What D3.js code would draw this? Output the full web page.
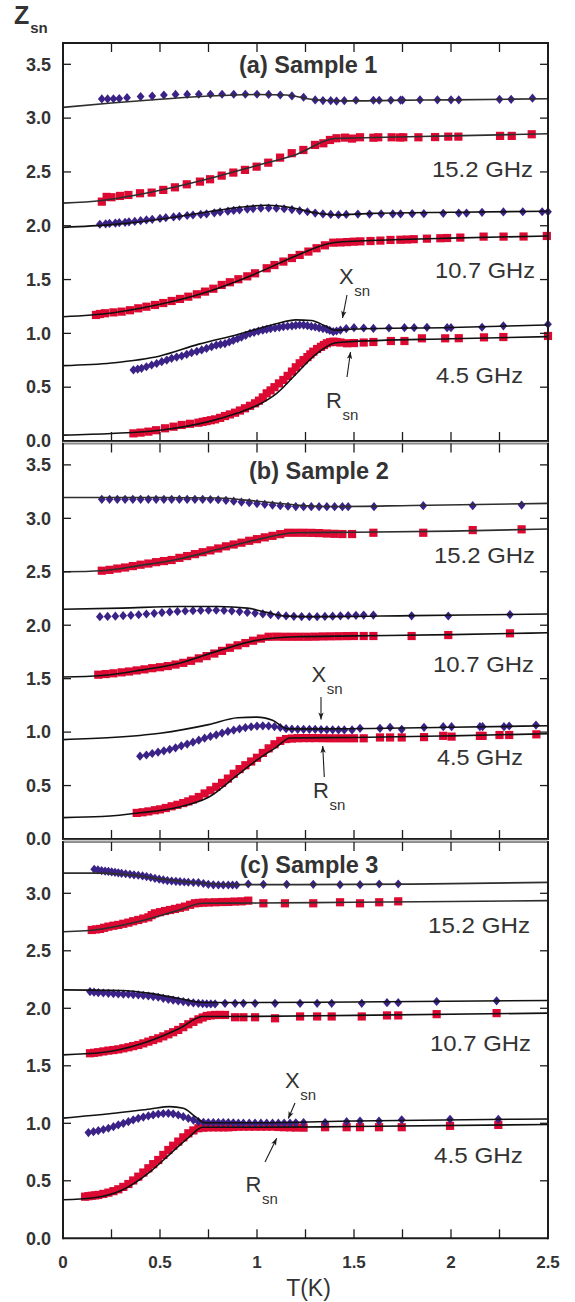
<!DOCTYPE html>
<html><head><meta charset="utf-8">
<script src="https://cdn.jsdelivr.net/npm/d3@7"></script>
<style>
html,body{margin:0;padding:0;background:#fff;}
svg{display:block;font-family:"Liberation Sans",Arial,Helvetica,sans-serif;}
</style></head><body>
<svg id="chart" width="575" height="1302"></svg>
<script>
// ---- axis ticks ----
const tempTicks = [0.25, 0.5, 0.75, 1, 1.25, 1.5, 1.75, 2, 2.25];
const tempLabelValues = [0, 0.5, 1, 1.5, 2, 2.5];
const tempLabels = ["0", "0.5", "1", "1.5", "2", "2.5"];
const zTicksAB = [0, 0.5, 1, 1.5, 2, 2.5, 3, 3.5];
const zTicksC = [0, 0.5, 1, 1.5, 2, 2.5, 3];
const freqLabels = ["15.2 GHz", "10.7 GHz", "4.5 GHz"];
const panelTitles = ["(a) Sample 1", "(b) Sample 2", "(c) Sample 3"];

// ---- Sample 1: measured X_sn (diamonds) and R_sn (squares), [T, Z] ----
const s1_x152 = [[0.20,3.178],[0.23,3.178],[0.26,3.18],[0.29,3.182],[0.33,3.19],[0.40,3.20],[0.46,3.205],[0.52,3.215],[0.58,3.22],[0.64,3.22],[0.70,3.222],[0.76,3.222],[0.82,3.222],[0.88,3.222],[0.94,3.222],[1.00,3.222],[1.06,3.22],[1.12,3.215],[1.18,3.206],[1.24,3.194],[1.30,3.169],[1.34,3.163],[1.38,3.162],[1.41,3.158],[1.45,3.162],[1.51,3.166],[1.60,3.166],[1.63,3.166],[1.69,3.166],[1.74,3.168],[1.75,3.168],[1.84,3.17],[1.93,3.17],[2.00,3.17],[2.04,3.17],[2.25,3.175],[2.31,3.175],[2.42,3.185]];
const s1_r152 = [[0.20,2.224],[0.225,2.268],[0.25,2.265],[0.294,2.277],[0.337,2.286],[0.397,2.302],[0.457,2.308],[0.517,2.333],[0.577,2.357],[0.638,2.385],[0.706,2.41],[0.758,2.432],[0.818,2.466],[0.878,2.494],[0.938,2.519],[0.998,2.549],[1.058,2.586],[1.119,2.633],[1.179,2.674],[1.239,2.704],[1.299,2.751],[1.342,2.766],[1.376,2.797],[1.41,2.813],[1.454,2.819],[1.49,2.81],[1.531,2.822],[1.6,2.818],[1.625,2.822],[1.694,2.822],[1.737,2.82],[1.754,2.822],[1.832,2.822],[1.918,2.824],[1.986,2.828],[2.038,2.828],[2.253,2.835],[2.313,2.835],[2.416,2.85]];
const s1_x107 = [[0.19,2.014],[0.22,2.018],[0.24,2.022],[0.27,2.025],[0.29,2.029],[0.32,2.032],[0.34,2.036],[0.37,2.04],[0.40,2.047],[0.43,2.054],[0.46,2.06],[0.50,2.068],[0.53,2.075],[0.57,2.082],[0.60,2.088],[0.64,2.095],[0.67,2.10],[0.71,2.105],[0.74,2.11],[0.78,2.12],[0.81,2.128],[0.85,2.135],[0.88,2.142],[0.91,2.148],[0.95,2.155],[0.98,2.16],[1.02,2.163],[1.06,2.165],[1.10,2.163],[1.14,2.158],[1.18,2.15],[1.22,2.14],[1.26,2.13],[1.30,2.118],[1.34,2.11],[1.38,2.105],[1.42,2.102],[1.46,2.105],[1.52,2.108],[1.58,2.108],[1.64,2.11],[1.70,2.11],[1.74,2.11],[1.80,2.112],[1.86,2.112],[1.96,2.115],[2.04,2.118],[2.08,2.118],[2.16,2.125],[2.27,2.128],[2.37,2.13],[2.47,2.13],[2.5,2.13]];
const s1_r107 = [[0.17,1.171],[0.19,1.18],[0.216,1.187],[0.26,1.195],[0.302,1.202],[0.345,1.215],[0.388,1.233],[0.43,1.248],[0.474,1.264],[0.517,1.282],[0.56,1.301],[0.603,1.32],[0.646,1.341],[0.69,1.363],[0.732,1.388],[0.775,1.415],[0.818,1.45],[0.86,1.475],[0.904,1.503],[0.95,1.53],[0.99,1.558],[1.05,1.605],[1.09,1.635],[1.136,1.667],[1.18,1.70],[1.22,1.729],[1.265,1.76],[1.307,1.791],[1.35,1.818],[1.393,1.843],[1.43,1.845],[1.464,1.848],[1.498,1.852],[1.533,1.855],[1.585,1.858],[1.636,1.862],[1.688,1.868],[1.739,1.87],[1.773,1.872],[1.808,1.875],[1.876,1.88],[1.945,1.884],[1.98,1.886],[2.048,1.89],[2.168,1.899],[2.271,1.899],[2.374,1.90],[2.494,1.905]];
const s1_x45 = [[0.363,0.66],[0.385,0.668],[0.405,0.675],[0.43,0.69],[0.457,0.706],[0.483,0.72],[0.509,0.737],[0.535,0.752],[0.56,0.768],[0.586,0.78],[0.612,0.79],[0.638,0.805],[0.663,0.821],[0.69,0.833],[0.715,0.846],[0.74,0.86],[0.766,0.876],[0.79,0.89],[0.812,0.898],[0.835,0.905],[0.857,0.92],[0.878,0.935],[0.9,0.95],[0.92,0.965],[0.942,0.982],[0.964,1.0],[0.985,1.01],[1.007,1.02],[1.03,1.03],[1.05,1.038],[1.07,1.045],[1.093,1.05],[1.115,1.056],[1.136,1.062],[1.158,1.066],[1.18,1.07],[1.2,1.075],[1.22,1.078],[1.24,1.077],[1.26,1.072],[1.28,1.065],[1.3,1.06],[1.32,1.052],[1.34,1.045],[1.36,1.038],[1.375,1.028],[1.393,1.016],[1.41,1.022],[1.43,1.031],[1.46,1.045],[1.5,1.053],[1.55,1.05],[1.6,1.046],[1.68,1.05],[1.76,1.053],[1.81,1.053],[1.876,1.056],[1.98,1.053],[2.0,1.053],[2.16,1.057],[2.27,1.07],[2.5,1.085]];
const s1_r45 = [[0.363,0.071],[0.40,0.078],[0.44,0.087],[0.48,0.10],[0.526,0.118],[0.57,0.133],[0.612,0.149],[0.655,0.16],[0.698,0.17],[0.72,0.178],[0.74,0.185],[0.762,0.193],[0.784,0.201],[0.81,0.215],[0.835,0.232],[0.86,0.247],[0.887,0.263],[0.912,0.283],[0.938,0.304],[0.964,0.327],[0.99,0.35],[1.01,0.375],[1.03,0.405],[1.05,0.443],[1.07,0.47],[1.09,0.50],[1.113,0.535],[1.136,0.567],[1.158,0.605],[1.18,0.645],[1.2,0.685],[1.22,0.722],[1.24,0.752],[1.26,0.78],[1.275,0.805],[1.29,0.83],[1.31,0.855],[1.33,0.875],[1.345,0.892],[1.36,0.908],[1.377,0.918],[1.393,0.923],[1.41,0.92],[1.43,0.915],[1.464,0.908],[1.5,0.91],[1.55,0.915],[1.6,0.92],[1.69,0.929],[1.76,0.929],[1.85,0.954],[1.97,0.954],[2.04,0.955],[2.17,0.963],[2.27,0.966],[2.5,0.976]];

// ---- Sample 2 ----
const s2_x152 = [[0.20,3.178],[0.24,3.178],[0.28,3.178],[0.32,3.178],[0.36,3.178],[0.40,3.178],[0.44,3.178],[0.48,3.178],[0.52,3.178],[0.56,3.178],[0.60,3.178],[0.64,3.178],[0.68,3.178],[0.72,3.178],[0.76,3.176],[0.80,3.174],[0.84,3.168],[0.88,3.16],[0.92,3.152],[0.96,3.146],[1.00,3.138],[1.04,3.131],[1.08,3.124],[1.12,3.118],[1.16,3.113],[1.20,3.11],[1.24,3.109],[1.28,3.109],[1.32,3.109],[1.36,3.109],[1.40,3.109],[1.44,3.109],[1.47,3.109],[1.603,3.109],[1.857,3.118],[2.112,3.118],[2.364,3.124]];
const s2_r152 = [[0.20,2.51],[0.24,2.518],[0.28,2.53],[0.32,2.54],[0.36,2.553],[0.40,2.566],[0.44,2.577],[0.48,2.59],[0.52,2.6],[0.56,2.61],[0.60,2.63],[0.64,2.647],[0.68,2.665],[0.72,2.683],[0.76,2.7],[0.80,2.718],[0.84,2.738],[0.88,2.755],[0.92,2.772],[0.96,2.79],[1.00,2.805],[1.04,2.822],[1.08,2.836],[1.12,2.852],[1.16,2.865],[1.20,2.865],[1.24,2.865],[1.28,2.864],[1.32,2.862],[1.36,2.858],[1.40,2.855],[1.44,2.853],[1.49,2.853],[1.60,2.865],[1.857,2.865],[2.112,2.89],[2.364,2.897]];
const s2_x107 = [[0.19,2.08],[0.23,2.082],[0.27,2.085],[0.31,2.089],[0.35,2.093],[0.39,2.098],[0.43,2.105],[0.47,2.111],[0.51,2.118],[0.55,2.124],[0.59,2.129],[0.63,2.133],[0.67,2.136],[0.71,2.138],[0.75,2.14],[0.79,2.14],[0.83,2.138],[0.87,2.134],[0.91,2.128],[0.95,2.12],[0.99,2.113],[1.03,2.106],[1.07,2.099],[1.11,2.092],[1.15,2.087],[1.19,2.083],[1.23,2.081],[1.27,2.08],[1.31,2.08],[1.35,2.082],[1.39,2.085],[1.43,2.088],[1.47,2.091],[1.51,2.093],[1.55,2.095],[1.60,2.095],[1.797,2.088],[1.986,2.086],[2.304,2.10]];
const s2_r107 = [[0.182,1.537],[0.22,1.543],[0.26,1.55],[0.302,1.559],[0.34,1.567],[0.38,1.577],[0.42,1.587],[0.46,1.598],[0.50,1.607],[0.54,1.618],[0.58,1.632],[0.62,1.648],[0.66,1.667],[0.70,1.69],[0.74,1.711],[0.78,1.735],[0.82,1.76],[0.86,1.789],[0.90,1.812],[0.94,1.833],[0.98,1.855],[1.02,1.875],[1.06,1.892],[1.10,1.893],[1.14,1.892],[1.18,1.892],[1.22,1.892],[1.26,1.892],[1.30,1.893],[1.34,1.895],[1.38,1.896],[1.42,1.897],[1.46,1.898],[1.50,1.899],[1.55,1.899],[1.60,1.899],[1.797,1.899],[1.986,1.908],[2.304,1.924]];
const s2_x45 = [[0.397,0.775],[0.43,0.786],[0.46,0.8],[0.49,0.812],[0.52,0.825],[0.55,0.838],[0.58,0.853],[0.61,0.872],[0.64,0.888],[0.67,0.906],[0.70,0.925],[0.73,0.943],[0.76,0.96],[0.79,0.975],[0.82,0.991],[0.85,1.006],[0.88,1.019],[0.91,1.031],[0.94,1.042],[0.97,1.05],[1.00,1.056],[1.03,1.059],[1.06,1.057],[1.09,1.052],[1.12,1.043],[1.15,1.032],[1.18,1.027],[1.21,1.026],[1.24,1.026],[1.27,1.026],[1.30,1.026],[1.33,1.024],[1.36,1.022],[1.39,1.021],[1.42,1.02],[1.45,1.02],[1.49,1.02],[1.531,1.035],[1.634,1.035],[1.686,1.045],[1.746,1.026],[1.861,1.045],[1.96,1.051],[2.003,1.051],[2.149,1.051],[2.163,1.051],[2.273,1.051],[2.30,1.057],[2.438,1.066]];
const s2_r45 = [[0.38,0.244],[0.41,0.25],[0.44,0.258],[0.474,0.269],[0.50,0.277],[0.53,0.29],[0.56,0.306],[0.59,0.32],[0.62,0.336],[0.646,0.352],[0.67,0.37],[0.70,0.393],[0.73,0.426],[0.76,0.455],[0.79,0.488],[0.82,0.525],[0.85,0.565],[0.88,0.61],[0.91,0.654],[0.94,0.69],[0.97,0.725],[1.00,0.76],[1.03,0.805],[1.06,0.848],[1.09,0.886],[1.12,0.918],[1.15,0.935],[1.18,0.94],[1.21,0.943],[1.24,0.944],[1.27,0.944],[1.30,0.944],[1.34,0.943],[1.38,0.942],[1.42,0.942],[1.46,0.942],[1.50,0.942],[1.55,0.942],[1.634,0.95],[1.686,0.95],[1.746,0.95],[1.861,0.953],[1.96,0.965],[2.003,0.958],[2.149,0.965],[2.163,0.965],[2.25,0.973],[2.30,0.973],[2.44,0.979]];

// ---- Sample 3 ----
const s3_x152 = [[0.161,3.209],[0.18,3.203],[0.199,3.197],[0.217,3.193],[0.234,3.19],[0.251,3.186],[0.268,3.182],[0.285,3.178],[0.302,3.174],[0.323,3.17],[0.345,3.165],[0.366,3.161],[0.388,3.157],[0.41,3.151],[0.431,3.145],[0.452,3.138],[0.474,3.13],[0.496,3.123],[0.517,3.116],[0.538,3.111],[0.56,3.107],[0.582,3.104],[0.603,3.101],[0.625,3.098],[0.646,3.096],[0.672,3.094],[0.698,3.093],[0.724,3.085],[0.749,3.078],[0.775,3.074],[0.801,3.072],[0.826,3.072],[0.852,3.072],[0.874,3.072],[0.895,3.072],[0.955,3.081],[1.033,3.078],[1.153,3.078],[1.29,3.078],[1.428,3.075],[1.531,3.075],[1.63,3.081],[1.728,3.081]];
const s3_r152 = [[0.148,2.681],[0.17,2.686],[0.191,2.69],[0.212,2.7],[0.234,2.71],[0.26,2.718],[0.285,2.725],[0.311,2.735],[0.337,2.745],[0.362,2.757],[0.388,2.768],[0.414,2.78],[0.44,2.791],[0.457,2.81],[0.474,2.826],[0.5,2.836],[0.526,2.846],[0.552,2.855],[0.577,2.864],[0.603,2.874],[0.629,2.884],[0.655,2.9],[0.68,2.913],[0.70,2.916],[0.723,2.919],[0.75,2.92],[0.784,2.922],[0.82,2.924],[0.852,2.925],[0.885,2.928],[0.921,2.93],[0.955,2.936],[1.033,2.913],[1.144,2.913],[1.29,2.913],[1.428,2.922],[1.531,2.913],[1.63,2.922],[1.728,2.93]];
const s3_x107 = [[0.139,2.145],[0.16,2.14],[0.182,2.136],[0.208,2.133],[0.234,2.13],[0.26,2.128],[0.285,2.125],[0.311,2.123],[0.337,2.122],[0.362,2.119],[0.388,2.116],[0.414,2.112],[0.44,2.107],[0.465,2.102],[0.491,2.096],[0.517,2.087],[0.543,2.078],[0.568,2.071],[0.594,2.064],[0.62,2.058],[0.646,2.052],[0.672,2.047],[0.698,2.043],[0.72,2.04],[0.741,2.038],[0.762,2.038],[0.784,2.038],[0.835,2.043],[0.887,2.043],[0.93,2.043],[0.99,2.043],[1.093,2.043],[1.222,2.043],[1.31,2.043],[1.385,2.043],[1.54,2.043],[1.67,2.049],[1.728,2.049],[1.926,2.059],[2.235,2.065]];
const s3_r107 = [[0.139,1.609],[0.16,1.613],[0.182,1.618],[0.208,1.625],[0.234,1.632],[0.26,1.637],[0.285,1.643],[0.311,1.652],[0.337,1.661],[0.362,1.671],[0.388,1.681],[0.414,1.695],[0.44,1.71],[0.465,1.724],[0.491,1.739],[0.517,1.756],[0.543,1.774],[0.568,1.792],[0.594,1.812],[0.62,1.836],[0.646,1.861],[0.672,1.882],[0.698,1.904],[0.72,1.92],[0.741,1.933],[0.762,1.938],[0.784,1.942],[0.81,1.942],[0.835,1.942],[0.887,1.922],[0.93,1.922],[0.99,1.922],[1.093,1.913],[1.222,1.929],[1.31,1.929],[1.385,1.929],[1.54,1.929],[1.67,1.938],[1.728,1.938],[1.926,1.949],[2.235,1.958]];
const s3_x45 = [[0.131,0.919],[0.157,0.927],[0.182,0.936],[0.208,0.946],[0.234,0.957],[0.26,0.971],[0.285,0.986],[0.311,1.0],[0.337,1.014],[0.362,1.029],[0.388,1.043],[0.414,1.054],[0.44,1.064],[0.465,1.073],[0.491,1.081],[0.517,1.085],[0.543,1.087],[0.568,1.082],[0.594,1.072],[0.62,1.058],[0.646,1.043],[0.672,1.028],[0.698,1.014],[0.724,1.009],[0.749,1.006],[0.775,1.006],[0.801,1.006],[0.826,1.006],[0.852,1.006],[0.878,1.004],[0.904,1.001],[0.93,1.001],[0.96,1.001],[0.99,1.001],[1.02,1.001],[1.05,1.001],[1.08,1.001],[1.11,1.001],[1.14,1.001],[1.17,1.001],[1.2,1.004],[1.24,1.006],[1.351,1.006],[1.462,1.014],[1.531,1.02],[1.629,1.02],[1.746,1.03],[1.995,1.035],[2.244,1.035]];
const s3_r45 = [[0.114,0.362],[0.131,0.366],[0.148,0.37],[0.165,0.373],[0.182,0.377],[0.208,0.386],[0.234,0.397],[0.26,0.41],[0.285,0.426],[0.311,0.447],[0.337,0.472],[0.362,0.503],[0.388,0.536],[0.414,0.572],[0.44,0.609],[0.465,0.645],[0.491,0.681],[0.517,0.725],[0.543,0.768],[0.568,0.805],[0.594,0.841],[0.62,0.878],[0.646,0.913],[0.672,0.938],[0.698,0.957],[0.724,0.962],[0.749,0.965],[0.775,0.965],[0.801,0.965],[0.826,0.965],[0.852,0.965],[0.878,0.968],[0.904,0.971],[0.93,0.971],[0.96,0.971],[0.99,0.971],[1.02,0.971],[1.05,0.971],[1.08,0.971],[1.11,0.968],[1.14,0.966],[1.17,0.965],[1.2,0.963],[1.24,0.962],[1.351,0.966],[1.462,0.966],[1.531,0.966],[1.629,0.966],[1.746,0.966],[1.995,0.978],[2.244,0.986]];

// ---- model curves, [T, Z] ----
const fit1_x152 = [[0,3.10],[0.25,3.14],[0.5,3.175],[0.75,3.205],[1.0,3.22],[1.15,3.215],[1.3,3.17],[1.45,3.16],[1.7,3.165],[2.0,3.17],[2.5,3.18]];
const fit1_r152 = [[0,2.21],[0.2,2.235],[0.5,2.33],[0.8,2.46],[1.0,2.56],[1.2,2.66],[1.4,2.81],[1.6,2.82],[2.0,2.835],[2.5,2.855]];
const fit1_x107 = [[0,1.985],[0.25,2.01],[0.5,2.06],[0.75,2.13],[0.9,2.17],[1.05,2.19],[1.2,2.16],[1.3,2.12],[1.4,2.10],[1.6,2.115],[2.0,2.125],[2.5,2.135]];
const fit1_r107 = [[0,1.155],[0.25,1.19],[0.5,1.27],[0.75,1.39],[1.0,1.56],[1.2,1.72],[1.4,1.845],[1.7,1.87],[2.0,1.885],[2.5,1.905]];
const fit1_x45 = [[0,0.70],[0.25,0.725],[0.5,0.79],[0.7,0.9],[0.9,0.99],[1.0,1.04],[1.1,1.09],[1.2,1.125],[1.28,1.12],[1.35,1.07],[1.4,1.03],[1.5,1.04],[2.0,1.055],[2.5,1.078]];
const fit1_r45 = [[0,0.055],[0.25,0.07],[0.5,0.10],[0.75,0.18],[0.9,0.26],[1.0,0.33],[1.1,0.44],[1.2,0.62],[1.3,0.8],[1.4,0.91],[1.45,0.92],[2.0,0.95],[2.5,0.97]];
const fit2_x152 = [[0,3.195],[0.5,3.195],[0.8,3.19],[1.0,3.16],[1.2,3.125],[1.4,3.11],[1.8,3.12],[2.5,3.14]];
const fit2_r152 = [[0,2.50],[0.2,2.51],[0.4,2.56],[0.6,2.62],[0.8,2.71],[1.0,2.8],[1.2,2.865],[1.5,2.87],[2.0,2.88],[2.5,2.90]];
const fit2_x107 = [[0,2.15],[0.3,2.16],[0.6,2.175],[0.8,2.175],[0.95,2.16],[1.05,2.12],[1.15,2.085],[1.3,2.08],[1.8,2.09],[2.5,2.105]];
const fit2_r107 = [[0,1.515],[0.2,1.53],[0.4,1.58],[0.6,1.645],[0.8,1.76],[1.0,1.86],[1.2,1.892],[1.5,1.9],[2.0,1.912],[2.5,1.93]];
const fit2_x45 = [[0,0.93],[0.25,0.95],[0.5,0.99],[0.75,1.07],[0.9,1.135],[1.0,1.14],[1.08,1.11],[1.16,1.03],[1.3,1.03],[2.0,1.045],[2.5,1.06]];
const fit2_r45 = [[0,0.20],[0.2,0.21],[0.4,0.245],[0.6,0.30],[0.75,0.39],[0.9,0.6],[1.0,0.74],[1.1,0.86],[1.17,0.945],[1.5,0.95],[2.0,0.965],[2.5,0.985]];
const fit3_x152 = [[0,3.175],[0.2,3.175],[0.35,3.16],[0.5,3.125],[0.7,3.09],[0.9,3.075],[1.2,3.075],[1.8,3.08],[2.5,3.095]];
const fit3_r152 = [[0,2.665],[0.2,2.69],[0.35,2.74],[0.5,2.805],[0.6,2.855],[0.72,2.913],[1.0,2.915],[1.5,2.922],[2.5,2.936]];
const fit3_x107 = [[0,2.16],[0.3,2.155],[0.45,2.13],[0.6,2.085],[0.72,2.05],[1.0,2.05],[1.5,2.055],[2.5,2.068]];
const fit3_r107 = [[0,1.595],[0.2,1.615],[0.4,1.69],[0.6,1.825],[0.72,1.928],[1.0,1.93],[1.5,1.938],[2.5,1.958]];
const fit3_x45 = [[0,1.045],[0.25,1.085],[0.45,1.125],[0.55,1.145],[0.62,1.13],[0.68,1.06],[0.73,1.005],[1.0,1.005],[1.5,1.02],[2.5,1.038]];
const fit3_r45 = [[0,0.335],[0.15,0.35],[0.3,0.415],[0.45,0.58],[0.55,0.73],[0.65,0.88],[0.72,0.965],[1.0,0.965],[1.5,0.972],[2.5,0.99]];

// ---- layout ----
const W = 575, H = 1302;
const xLeft = 63, xRight = 548;
const BLUE = "#3b2287", RED = "#dc0a32", INK = "#1c1c1c", TEXT = "#333";

const panels = [
  { top: 43, bottom: 441, zmax: 3.698, zticks: zTicksAB, title: panelTitles[0], titleX: 239, titleY: 73,
    xs: [s1_x152, s1_x107, s1_x45], rs: [s1_r152, s1_r107, s1_r45],
    fits: [fit1_x152, fit1_r152, fit1_x107, fit1_r107, fit1_x45, fit1_r45],
    freqPos: [[432, 177], [435, 278], [436, 383]], freqW: [101, 100, 87],
    xLab: [339, 284], rLab: [326, 408], xArrow: [[347, 295], [342.5, 318]], rArrow: [[347, 377], [350.5, 352]] },
  { top: 443.5, bottom: 839, zmax: 3.70, zticks: zTicksAB, title: panelTitles[1], titleX: 249, titleY: 479,
    xs: [s2_x152, s2_x107, s2_x45], rs: [s2_r152, s2_r107, s2_r45],
    fits: [fit2_x152, fit2_r152, fit2_x107, fit2_r107, fit2_x45, fit2_r45],
    freqPos: [[434, 563], [433, 672], [437, 765]], freqW: [101, 101, 86],
    xLab: [311.5, 682], rLab: [313, 798], xArrow: [[321, 697], [321, 719.5]], rArrow: [[324.3, 777], [322.7, 746]] },
  { top: 842, bottom: 1238.3, zmax: 3.446, zticks: zTicksC, title: panelTitles[2], titleX: 240, titleY: 873,
    xs: [s3_x152, s3_x107, s3_x45], rs: [s3_r152, s3_r107, s3_r45],
    fits: [fit3_x152, fit3_r152, fit3_x107, fit3_r107, fit3_x45, fit3_r45],
    freqPos: [[428, 933], [430, 1051], [434, 1163]], freqW: [102, 101, 89],
    xLab: [285, 1088], rLab: [245.5, 1192], xArrow: [[295, 1103], [288.3, 1118.5]], rArrow: [[265, 1162], [276.7, 1138.3]] }
];

const svg = d3.select("#chart");
svg.append("rect").attr("width", W).attr("height", H).attr("fill", "#fff");

const defs = svg.append("defs");
defs.append("marker").attr("id", "arrowhead").attr("viewBox", "0 0 10 10")
  .attr("refX", 10).attr("refY", 5).attr("markerWidth", 10).attr("markerHeight", 7)
  .attr("markerUnits", "userSpaceOnUse").attr("orient", "auto")
  .append("path").attr("d", "M0,1.2 L10,5 L0,8.8 L2.5,5 Z").attr("fill", INK);

const x = d3.scaleLinear().domain([0, 2.5]).range([xLeft, xRight]);
const diamond = "M0,-4.6 L3.9,0 L0,4.6 L-3.9,0 Z";

panels.forEach((p, i) => {
  const y = d3.scaleLinear().domain([0, p.zmax]).range([p.bottom, p.top]);
  const g = svg.append("g");

  // measured points: squares (R_sn) then diamonds (X_sn)
  p.rs.forEach(series => {
    g.append("g").selectAll("rect").data(series).join("rect")
      .attr("x", d => x(d[0]) - 4.1).attr("y", d => y(d[1]) - 4.1)
      .attr("width", 8.2).attr("height", 8.2).attr("fill", RED);
  });
  p.xs.forEach(series => {
    g.append("g").selectAll("path").data(series).join("path")
      .attr("transform", d => `translate(${x(d[0])},${y(d[1])})`)
      .attr("d", diamond).attr("fill", BLUE);
  });

  // model curves drawn over the points
  const line = d3.line().x(d => x(d[0])).y(d => y(d[1])).curve(d3.curveMonotoneX);
  p.fits.forEach((f, k) => {
    g.append("path").datum(f).attr("d", line).attr("fill", "none")
      .attr("stroke", k < 2 ? "#2e2e2e" : "#111").attr("stroke-width", 1.6);
  });

  // frame
  g.append("line").attr("x1", xLeft).attr("x2", xRight).attr("y1", p.top).attr("y2", p.top)
    .attr("stroke", i === 0 ? INK : "#8a8a8a").attr("stroke-width", 2);
  g.append("line").attr("x1", xLeft).attr("x2", xRight).attr("y1", p.bottom).attr("y2", p.bottom)
    .attr("stroke", INK).attr("stroke-width", 2);
  g.append("line").attr("x1", xLeft).attr("x2", xLeft).attr("y1", p.top - 1).attr("y2", p.bottom + 1)
    .attr("stroke", INK).attr("stroke-width", 2);
  g.append("line").attr("x1", xRight).attr("x2", xRight).attr("y1", p.top - 1).attr("y2", p.bottom + 1)
    .attr("stroke", INK).attr("stroke-width", 2);

  // temperature ticks on top and bottom edges (pointing inward)
  g.append("g").selectAll("line").data(tempTicks).join("line")
    .attr("x1", d => x(d)).attr("x2", d => x(d)).attr("y1", p.bottom).attr("y2", p.bottom - 9)
    .attr("stroke", INK).attr("stroke-width", 1.3);
  g.append("g").selectAll("line").data(tempTicks).join("line")
    .attr("x1", d => x(d)).attr("x2", d => x(d)).attr("y1", p.top).attr("y2", p.top + 9)
    .attr("stroke", INK).attr("stroke-width", 1.3);

  // Z ticks on both sides, labels on the left
  const zt = p.zticks.filter(v => v > 0);
  g.append("g").selectAll("line").data(zt).join("line")
    .attr("x1", xLeft).attr("x2", xLeft + 8).attr("y1", d => y(d)).attr("y2", d => y(d))
    .attr("stroke", INK).attr("stroke-width", 1.3);
  g.append("g").selectAll("line").data(zt).join("line")
    .attr("x1", xRight).attr("x2", xRight - 8).attr("y1", d => y(d)).attr("y2", d => y(d))
    .attr("stroke", INK).attr("stroke-width", 1.3);
  g.append("g").selectAll("text").data(p.zticks).join("text")
    .attr("x", 51).attr("y", d => y(d) + 6.3).attr("text-anchor", "end")
    .attr("font-size", 18).attr("font-weight", "bold").attr("fill", TEXT)
    .text(d => d.toFixed(1));

  // panel title
  g.append("text").attr("x", p.titleX).attr("y", p.titleY)
    .attr("font-size", 23.5).attr("font-weight", "bold").attr("fill", TEXT).text(p.title);

  // frequency labels
  freqLabels.forEach((t, k) => {
    g.append("text").attr("x", p.freqPos[k][0]).attr("y", p.freqPos[k][1])
      .attr("font-size", 22).attr("fill", TEXT)
      .attr("textLength", p.freqW[k]).attr("lengthAdjust", "spacingAndGlyphs").text(t);
  });

  // X_sn / R_sn annotations with arrows
  const sub = (pos, letter) => {
    const t = g.append("text").attr("x", pos[0]).attr("y", pos[1]).attr("fill", TEXT);
    t.append("tspan").attr("font-size", 22).text(letter);
    t.append("tspan").attr("font-size", 15).attr("dy", 12).attr("dx", 0.5).text("sn");
  };
  sub(p.xLab, "X");
  sub(p.rLab, "R");
  [p.xArrow, p.rArrow].forEach(a => {
    g.append("line").attr("x1", a[0][0]).attr("y1", a[0][1]).attr("x2", a[1][0]).attr("y2", a[1][1])
      .attr("stroke", INK).attr("stroke-width", 1.1).attr("marker-end", "url(#arrowhead)");
  });
});

// gaps between stacked panels
svg.append("rect").attr("x", xLeft).attr("y", 441.8).attr("width", xRight - xLeft).attr("height", 1.2).attr("fill", "#c8c8c8");
svg.append("rect").attr("x", xLeft).attr("y", 839.8).attr("width", xRight - xLeft).attr("height", 1.4).attr("fill", "#c8c8c8");

// bottom temperature labels
const xb = svg.append("g");
xb.selectAll("text").data(tempLabelValues).join("text")
  .attr("x", d => x(d)).attr("y", 1268).attr("text-anchor", "middle")
  .attr("font-size", 17).attr("font-weight", "bold").attr("fill", TEXT)
  .text((d, i) => tempLabels[i]);
svg.append("text").attr("x", (xLeft + xRight) / 2 + 3).attr("y", 1296).attr("text-anchor", "middle")
  .attr("font-size", 23).attr("fill", TEXT).text("T(K)");

// vertical axis title
const ztitle = svg.append("text").attr("x", 14).attr("y", 24).attr("fill", TEXT).attr("font-weight", "bold");
ztitle.append("tspan").attr("font-size", 25).text("Z");
ztitle.append("tspan").attr("font-size", 15).attr("dy", 9).attr("dx", 1).text("sn");
</script>
</body></html>
